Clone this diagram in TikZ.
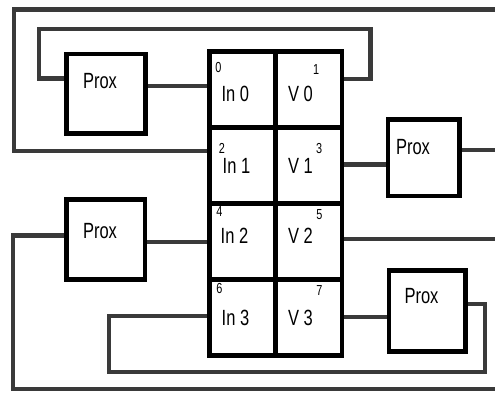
\documentclass[tikz,border=0pt]{standalone}
\usepackage{fontspec}
\setmainfont{Liberation Sans}[FakeStretch=0.75]
\definecolor{conncol}{RGB}{58,58,58}
\begin{document}
\begin{tikzpicture}[x=1pt,y=-1pt,
  cellbox/.style={draw=black, line width=4.5pt, minimum width=66.2pt, minimum height=76pt, inner sep=0pt},
  proxbox/.style={draw=black, line width=4.5pt, inner sep=0pt},
  conn/.style={draw=conncol, line width=4.3pt},
  big/.style={anchor=base, inner sep=0pt, font=\fontsize{22}{22}\selectfont},
  small/.style={anchor=base, inner sep=0pt, font=\fontsize{14.5}{14.5}\selectfont}]
\useasboundingbox (0,0) rectangle (495,393);
% terminal block cells
\node[cellbox] (c0) at (242.6,89.7) {};
\node[cellbox] (c1) at (308.75,89.7) {};
\node[cellbox] (c2) at (242.6,165.7) {};
\node[cellbox] (c3) at (308.75,165.7) {};
\node[cellbox] (c4) at (242.6,241.65) {};
\node[cellbox] (c5) at (308.75,241.65) {};
\node[cellbox] (c6) at (242.6,317.55) {};
\node[cellbox] (c7) at (308.75,317.55) {};
% prox boxes
\node[proxbox, minimum width=78.8pt, minimum height=79.3pt] (p1) at (106.1,93.65) {};
\node[proxbox, minimum width=71.7pt, minimum height=76.3pt] (p2) at (423.85,157.85) {};
\node[proxbox, minimum width=78.3pt, minimum height=80pt] (p3) at (105.85,239.7) {};
\node[proxbox, minimum width=76.5pt, minimum height=81.4pt] (p4) at (427.25,311) {};
% free ends
\coordinate (e1) at (495,9.5);
\coordinate (e2) at (495,150.3);
\coordinate (e3) at (495,238.8);
\coordinate (e4) at (495,388.8);
% connectors
\draw[conn] (c2.west |- 0,151.2) -- (13.8,151.2) -- (13.8,9.5) -- (e1);
\draw[conn] (p1.west |- 0,78.5) -- (38.8,78.5) -- (38.8,28.8) -- (370.5,28.8) -- (370.5,79.2) -- (c1.east |- 0,79.2);
\draw[conn] (p1.east |- 0,86.3) -- (c0.west |- 0,86.3);
\draw[conn] (c3.east |- 0,164.5) -- (p2.west |- 0,164.5);
\draw[conn] (p2.east |- 0,150.3) -- (e2);
\draw[conn] (p3.east |- 0,241.7) -- (c4.west |- 0,241.7);
\draw[conn] (p3.west |- 0,235.5) -- (13.3,235.5) -- (13.3,388.8) -- (e4);
\draw[conn] (c5.east |- 0,238.8) -- (e3);
\draw[conn] (c7.east |- 0,317.2) -- (p4.west |- 0,317.2);
\draw[conn] (p4.east |- 0,304.3) -- (484.7,304.3) -- (484.7,371.7) -- (109,371.7) -- (109,315.7) -- (c6.west |- 0,315.7);
% prox labels
\node[big] (t1) at (100,89) {Prox};
\node[big] (t2) at (413,154) {Prox};
\node[big] (t3) at (100,238) {Prox};
\node[big] (t4) at (421.5,303.3) {Prox};
% cell labels
\node[big] (l0) at (235.3,102) {In 0};
\node[big] (l1) at (300.4,102) {V 0};
\node[big] (l2) at (236.5,173) {In 1};
\node[big] (l3) at (300.4,173) {V 1};
\node[big] (l4) at (234.5,243.3) {In 2};
\node[big] (l5) at (300.4,243.3) {V 2};
\node[big] (l6) at (235.5,325) {In 3};
\node[big] (l7) at (300.4,325) {V 3};
% terminal numbers
\node[small] (n0) at (218.5,72.7) {0};
\node[small] (n1) at (316.2,74.7) {1};
\node[small] (n2) at (222,153.7) {2};
\node[small] (n3) at (319.2,153.7) {3};
\node[small] (n4) at (219.3,216.7) {4};
\node[small] (n5) at (319.3,219) {5};
\node[small] (n6) at (219.3,293.3) {6};
\node[small] (n7) at (319.3,295) {7};
\end{tikzpicture}
\end{document}
